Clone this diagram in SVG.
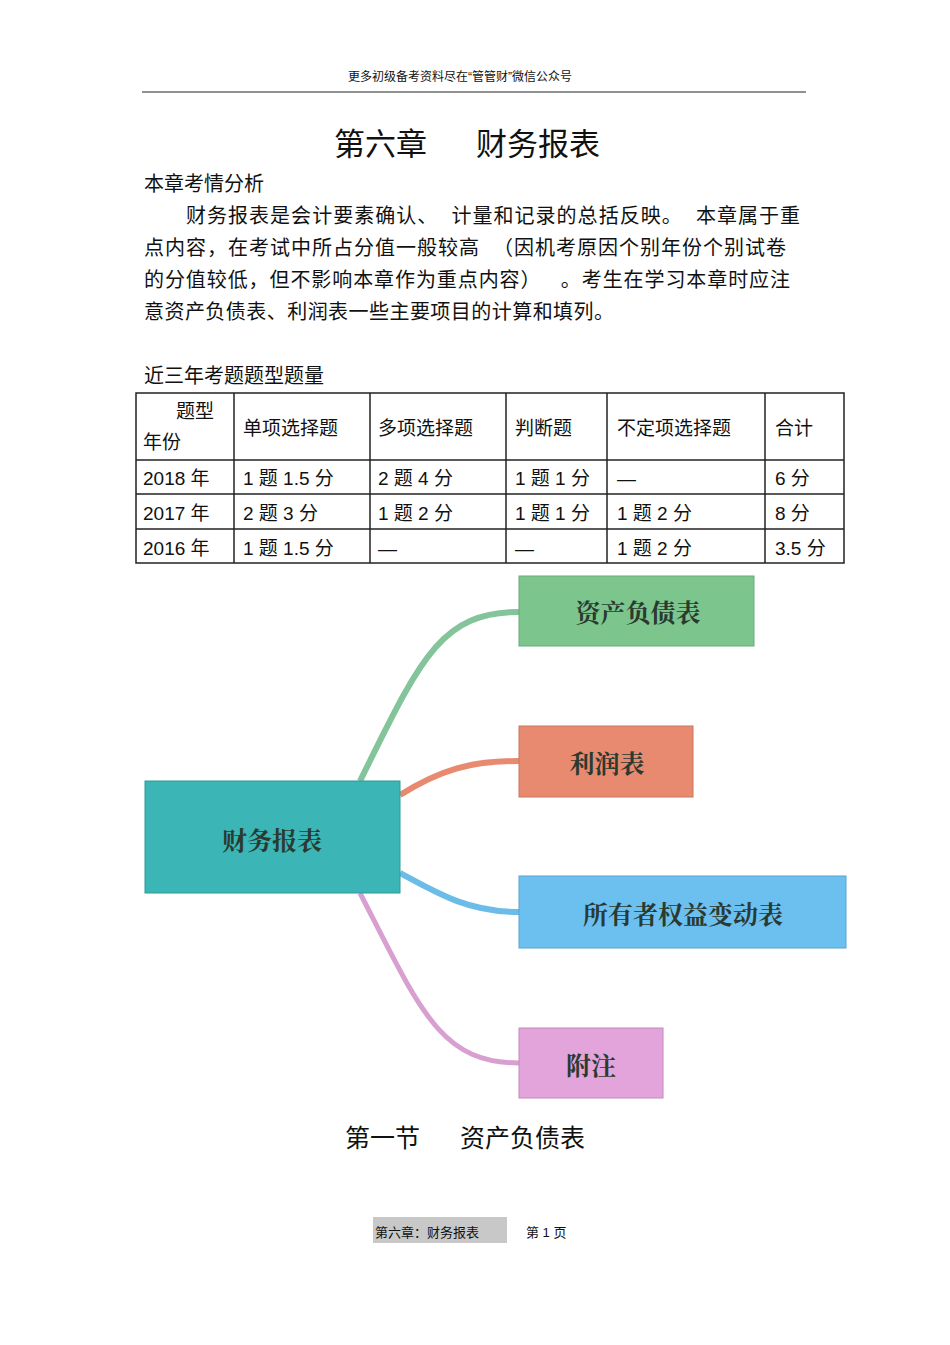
<svg xmlns="http://www.w3.org/2000/svg" width="950" height="1345" viewBox="0 0 950 1345">
<style>
text{font-family:"Liberation Sans","Noto Sans CJK SC",sans-serif;fill:#111}
.s{font-family:"Noto Serif CJK SC","Noto Sans CJK SC",serif}
.b{font-size:20px}
.t{font-size:19px}
.n{font-size:25px;font-weight:bold;fill:#2a3a30;text-anchor:middle}
.g line{stroke:#222;stroke-width:1.5}
</style>
<rect width="950" height="1345" fill="#fff"/>
<text x="460" y="81" font-size="12" text-anchor="middle">更多初级备考资料尽在“管管财”微信公众号</text>
<line x1="142" y1="92" x2="806" y2="92" stroke="#222" stroke-width="1"/>
<text x="334" y="155" font-size="31">第六章</text>
<text x="476" y="155" font-size="31">财务报表</text>
<text x="144" y="191" class="b">本章考情分析</text>
<text x="186" y="223" class="b" xml:space="preserve" textLength="614" lengthAdjust="spacing">财务报表是会计要素确认、  计量和记录的总括反映。  本章属于重</text>
<text x="144" y="255" class="b" xml:space="preserve" textLength="642" lengthAdjust="spacing">点内容，在考试中所占分值一般较高  （因机考原因个别年份个别试卷</text>
<text x="144" y="287" class="b" xml:space="preserve" textLength="646" lengthAdjust="spacing">的分值较低，但不影响本章作为重点内容）   。考生在学习本章时应注</text>
<text x="144" y="319" class="b" textLength="470" lengthAdjust="spacing">意资产负债表、利润表一些主要项目的计算和填列。</text>
<text x="144" y="383" class="b">近三年考题题型题量</text>
<g id="table" class="g">
<rect x="136" y="393" width="708" height="170" fill="none" stroke="#222" stroke-width="1.5"/>
<line x1="136" y1="460" x2="844" y2="460"/><line x1="136" y1="494" x2="844" y2="494"/><line x1="136" y1="529" x2="844" y2="529"/>
<line x1="234" y1="393" x2="234" y2="563"/><line x1="370" y1="393" x2="370" y2="563"/><line x1="506" y1="393" x2="506" y2="563"/><line x1="607" y1="393" x2="607" y2="563"/><line x1="765" y1="393" x2="765" y2="563"/>
<g class="t">
<text x="176" y="418">题型</text><text x="143" y="449">年份</text>
<text x="243" y="435">单项选择题</text><text x="378" y="435">多项选择题</text><text x="515" y="435">判断题</text><text x="617" y="435">不定项选择题</text><text x="775" y="435">合计</text>
<text x="143" y="485">2018 年</text><text x="243" y="485">1 题 1.5 分</text><text x="378" y="485">2 题 4 分</text><text x="515" y="485">1 题 1 分</text><text x="617" y="485">—</text><text x="775" y="485">6 分</text>
<text x="143" y="520">2017 年</text><text x="243" y="520">2 题 3 分</text><text x="378" y="520">1 题 2 分</text><text x="515" y="520">1 题 1 分</text><text x="617" y="520">1 题 2 分</text><text x="775" y="520">8 分</text>
<text x="143" y="555">2016 年</text><text x="243" y="555">1 题 1.5 分</text><text x="378" y="555">—</text><text x="515" y="555">—</text><text x="617" y="555">1 题 2 分</text><text x="775" y="555">3.5 分</text>
</g>
</g>
<g id="connectors" fill="none">
<path d="M360 781 C420 660,440 612,519 612" stroke="#84c49a" stroke-width="6"/>
<path d="M400 795 C440 770,470 761,519 761" stroke="#e88a70" stroke-width="6"/>
<path d="M400 873 C440 895,470 912,519 912" stroke="#6cbce8" stroke-width="6"/>
<path d="M360 893 C420 1010,440 1063,519 1063" stroke="#d8a0d0" stroke-width="5"/>
</g>
<g id="n0"><rect x="145" y="781" width="255" height="112" fill="#3bb5b5" stroke="#2c9a9a"/><text x="272" y="850" class="n s" font-size="28">财务报表</text></g>
<g id="n1"><rect x="519" y="576" width="235" height="70" fill="#7cc68e" stroke="#6aa97a"/><text x="638" y="622" class="n s">资产负债表</text></g>
<g id="n2"><rect x="519" y="726" width="174" height="71" fill="#e88a70" stroke="#c97760"/><text x="607" y="773" class="n s">利润表</text></g>
<g id="n3"><rect x="519" y="876" width="327" height="72" fill="#6cc0f0" stroke="#5aa4d0"/><text x="683" y="924" class="n s">所有者权益变动表</text></g>
<g id="n4"><rect x="519" y="1028" width="144" height="70" fill="#e2a4da" stroke="#c28abc"/><text x="591" y="1075" class="n s">附注</text></g>
<text x="345" y="1147" font-size="25">第一节</text>
<text x="460" y="1147" font-size="25">资产负债表</text>
<rect x="373" y="1217" width="134" height="26" fill="#c8c8c8"/>
<text x="375" y="1237" font-size="13">第六章：财务报表</text>
<text x="526" y="1237" font-size="13">第 1 页</text>
</svg>
